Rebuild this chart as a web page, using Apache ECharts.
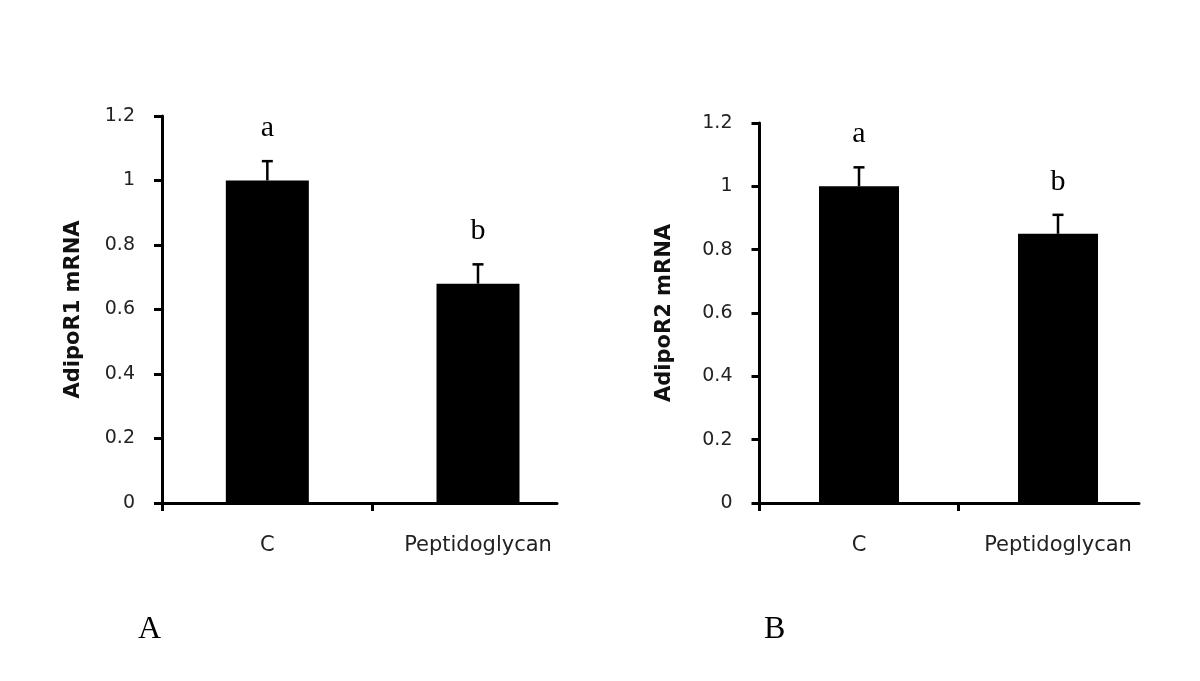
<!DOCTYPE html>
<html>
<head>
<meta charset="utf-8">
<script src="https://cdn.jsdelivr.net/npm/echarts@6/dist/echarts.min.js"></script>
<style>html,body{margin:0;padding:0;background:#fff;}#chart{width:1200px;height:681px;}</style>
</head>
<body>
<div id="chart"></div>
<script>
// ---- data ----
const categories = ['C', 'Peptidoglycan'];
const adipoR1Values = [1.0, 0.68];
const adipoR1Errors = [0.06, 0.06];
const adipoR1Letters = ['a', 'b'];
const adipoR2Values = [1.0, 0.85];
const adipoR2Errors = [0.06, 0.06];
const adipoR2Letters = ['a', 'b'];
const yMin = 0, yMax = 1.2, yInterval = 0.2;
const panelLabels = ['A', 'B'];

const chart = echarts.init(document.getElementById('chart'), null, {renderer: 'canvas'});

const catPos = categories.map((c, i) => i + 0.5);

function xAxisCfg(gridIndex, max) {
  return {
    type: 'value', gridIndex: gridIndex, min: 0, max: max,
    axisLine: {show: true, lineStyle: {color: '#000', width: 3}},
    axisTick: {show: true, customValues: [0, 1], length: 8, inside: false, lineStyle: {color: '#000', width: 3}},
    axisLabel: {
      customValues: catPos, margin: 32,
      fontFamily: 'DejaVu Sans', fontSize: 21, color: '#222',
      formatter: v => categories[Math.round(v - 0.5)] || ''
    },
    splitLine: {show: false}
  };
}
function yAxisCfg(gridIndex, name, gap) {
  return {
    type: 'value', gridIndex: gridIndex, min: yMin, max: yMax, interval: yInterval,
    name: name, nameLocation: 'middle', nameGap: gap, nameRotate: 90,
    nameTextStyle: {fontFamily: 'DejaVu Sans', fontWeight: 'bold', fontSize: 21, color: '#111'},
    axisLine: {show: true, lineStyle: {color: '#000', width: 3}},
    axisTick: {show: true, length: 8, lineStyle: {color: '#000', width: 3}},
    axisLabel: {margin: 27, fontFamily: 'DejaVu Sans', fontSize: 19, color: '#222'},
    splitLine: {show: false}
  };
}
function barSeries(idx, values, width) {
  return {
    type: 'bar', xAxisIndex: idx, yAxisIndex: idx, barWidth: width,
    itemStyle: {color: '#000'},
    data: values.map((v, i) => [catPos[i], v]),
    silent: true
  };
}
function errSeries(idx, values, errors, letters) {
  return {
    type: 'custom', xAxisIndex: idx, yAxisIndex: idx,
    data: values.map((v, i) => [catPos[i], v, errors[i], i]),
    renderItem: function (params, api) {
      const x = api.value(0), v = api.value(1), e = api.value(2), i = api.value(3);
      const base = api.coord([x, v]);
      const top = api.coord([x, v + e]);
      const cap = 5.5;
      return {
        type: 'group',
        children: [
          {type: 'line', shape: {x1: base[0], y1: base[1], x2: top[0], y2: top[1]}, style: {stroke: '#000', lineWidth: 2.5}},
          {type: 'line', shape: {x1: top[0] - cap, y1: top[1], x2: top[0] + cap, y2: top[1]}, style: {stroke: '#000', lineWidth: 2.5}},
          {type: 'text', style: {text: letters[i], x: top[0], y: top[1] - 33, textAlign: 'center', textVerticalAlign: 'middle',
            font: '30px "Liberation Serif"', fill: '#000'}}
        ]
      };
    },
    silent: true, z: 5
  };
}

const option = {
  backgroundColor: '#fff',
  animation: false,
  grid: [
    {left: 162, top: 116, width: 395, height: 387},
    {left: 759.5, top: 123, width: 379.5, height: 380}
  ],
  xAxis: [xAxisCfg(0, 1.875), xAxisCfg(1, 1.907)],
  yAxis: [yAxisCfg(0, 'AdipoR1 mRNA', 78), yAxisCfg(1, 'AdipoR2 mRNA', 84)],
  series: [
    barSeries(0, adipoR1Values, 83),
    errSeries(0, adipoR1Values, adipoR1Errors, adipoR1Letters),
    barSeries(1, adipoR2Values, 80),
    errSeries(1, adipoR2Values, adipoR2Errors, adipoR2Letters)
  ],
  graphic: [
    {type: 'text', left: 138, top: 614, style: {text: panelLabels[0], font: '32px "Liberation Serif"', fill: '#000'}},
    {type: 'text', left: 764, top: 614, style: {text: panelLabels[1], font: '32px "Liberation Serif"', fill: '#000'}}
  ]
};
chart.setOption(option);
</script>
</body>
</html>
